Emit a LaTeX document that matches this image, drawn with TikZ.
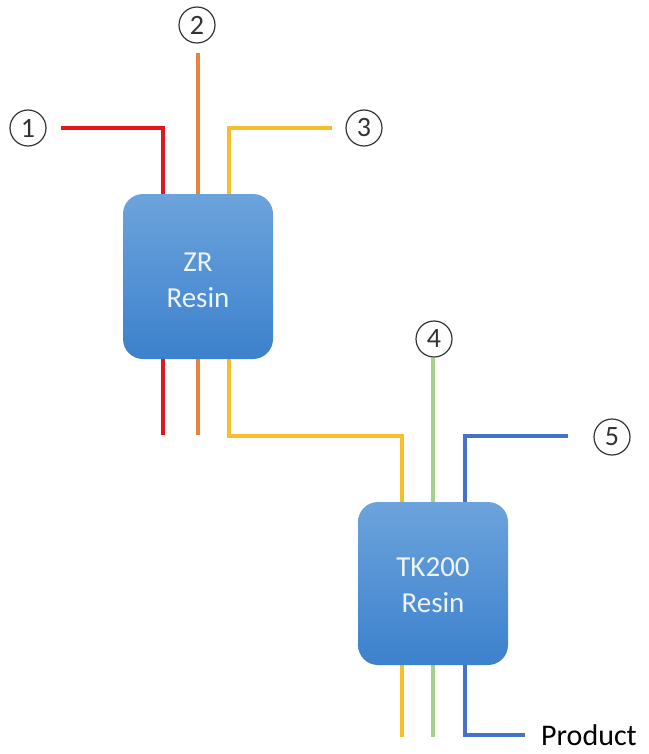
\documentclass[tikz,border=0pt]{standalone}
\usepackage{fontspec}
\setmainfont{Carlito}
\usetikzlibrary{backgrounds,calc}
\definecolor{cred}{HTML}{E3161E}
\definecolor{corange}{HTML}{E9823E}
\definecolor{cyellow}{HTML}{F5BE2A}
\definecolor{cgreen}{HTML}{A6D08C}
\definecolor{cblue}{HTML}{4472C4}
\definecolor{boxtop}{HTML}{6CA3DC}
\definecolor{boxbot}{HTML}{3C81CD}
\definecolor{boxtext}{HTML}{EEF4FB}
\definecolor{circ}{HTML}{333333}
\tikzset{
  resinbox/.style={rectangle, rounded corners=20pt, minimum width=150pt,
    top color=boxtop, bottom color=boxbot, draw=none, align=center,
    text=boxtext, font=\fontsize{29}{36}\selectfont},
  numlabel/.style={circle, draw=circ, line width=1.2pt, minimum size=36pt,
    inner sep=0pt, text=circ, font=\fontsize{28}{28}\selectfont},
  pipe/.style={line width=4.5pt},
}
\begin{document}
\begin{tikzpicture}[x=1pt,y=-1pt]
\useasboundingbox (0,0) rectangle (648,754);
\node[resinbox, minimum height=165pt] (zr) at (198,276.5) {};
\node[text=boxtext, align=center, font=\fontsize{29}{36}\selectfont] (zrt) at (198,280) {ZR\\Resin};
\node[resinbox, minimum height=163pt] (tk) at (433,583.5) {};
\node[text=boxtext, align=center, font=\fontsize{29}{36}\selectfont] (tkt) at (433,585) {TK200\\Resin};
\node[numlabel] (n1) at (28,128) {1};
\node[numlabel] (n2) at (197,25) {2};
\node[numlabel] (n3) at (364,128) {3};
\node[numlabel] (n4) at (434,339) {4};
\node[numlabel] (n5) at (612,437) {5};
\node[anchor=west, inner sep=0pt, font=\fontsize{30}{30}\selectfont] (prod) at (541,735) {Product};
\coordinate (r0) at (61,128);
\coordinate (r1) at (163,435);
\coordinate (o0) at (198,53);
\coordinate (o1) at (198,435);
\coordinate (y0) at (332,128);
\coordinate (ybend) at (402,436);
\coordinate (y1) at (402,737);
\coordinate (g0) at (433,358);
\coordinate (g1) at (433,737);
\coordinate (b0) at (568,436);
\coordinate (b1) at (525,735);
\begin{scope}[on background layer]
\draw[pipe, cred] (r0) -| (163,200);
\draw[pipe, cred] (163,350) -- (r1);
\draw[pipe, corange, line width=4pt] (o0) -- (198,200);
\draw[pipe, corange, line width=4pt] (198,350) -- (o1);
\draw[pipe, cyellow] (y0) -| (229,200);
\draw[pipe, cyellow] (229,350) |- (ybend) -- (402,510);
\draw[pipe, cyellow] (402,655) -- (y1);
\draw[pipe, cgreen, line width=3.5pt] (g0) -- (433,510);
\draw[pipe, cgreen, line width=3.5pt] (433,655) -- (g1);
\draw[pipe, cblue] (b0) -| (465,510);
\draw[pipe, cblue] (465,655) |- (b1);
\end{scope}
\end{tikzpicture}
\end{document}
